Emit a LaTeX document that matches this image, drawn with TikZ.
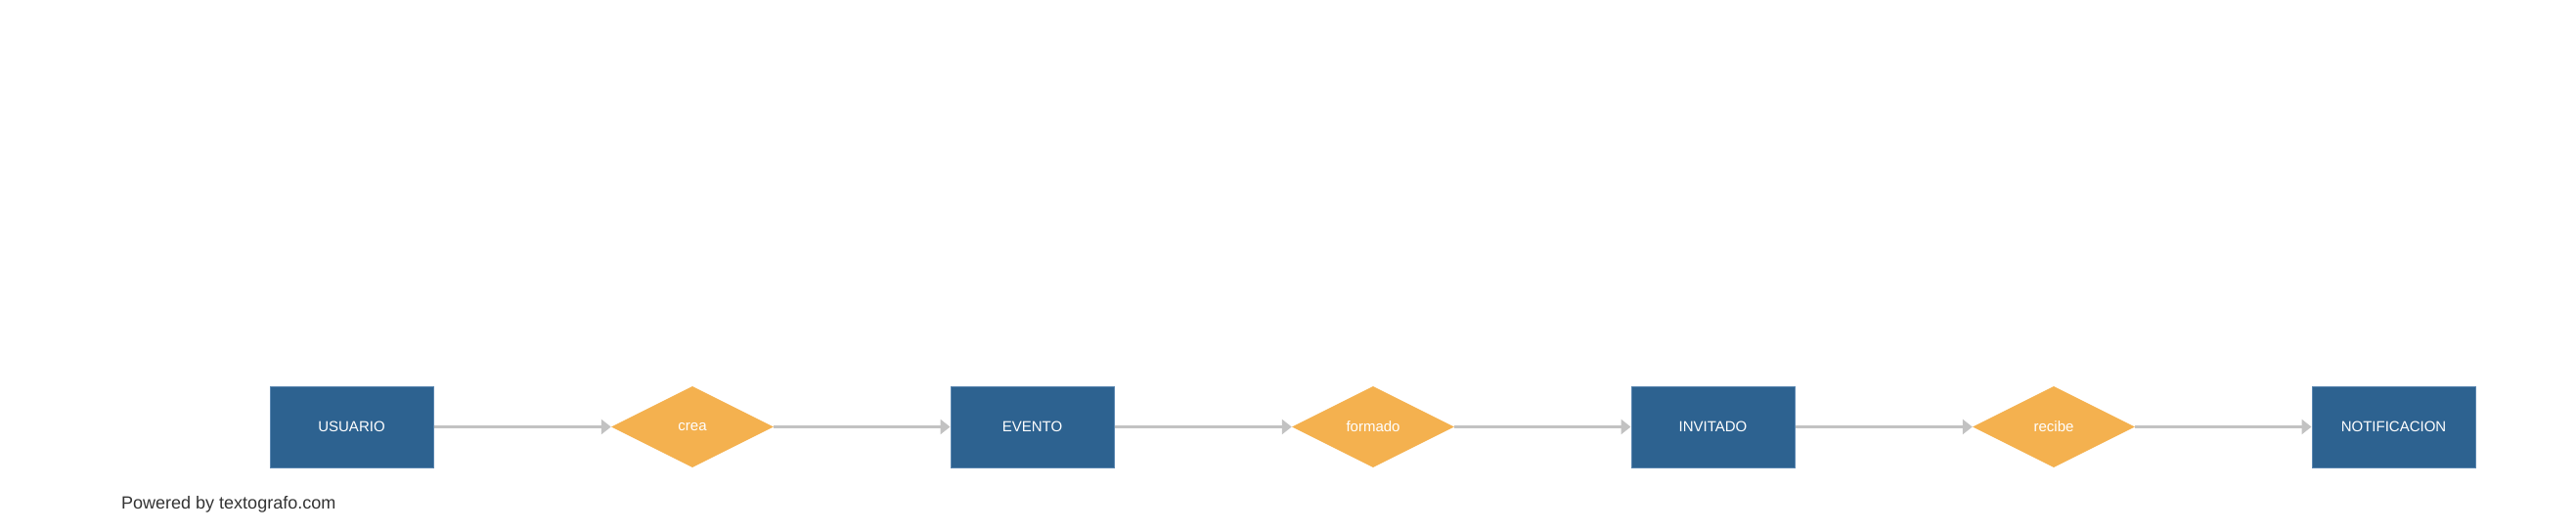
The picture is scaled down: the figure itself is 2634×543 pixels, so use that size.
\documentclass[tikz,border=0pt]{standalone}
\usepackage{fontspec}
\setmainfont{Liberation Sans}
\usetikzlibrary{shapes.geometric,arrows.meta}
\definecolor{boxblue}{HTML}{2D6290}
\definecolor{boxedge}{HTML}{5A86B0}
\definecolor{diaorange}{HTML}{F4B14F}
\definecolor{linegray}{HTML}{C2C2C2}
\definecolor{credit}{HTML}{333333}
\tikzset{
  entity/.style={rectangle, fill=boxblue, draw=boxedge, line width=1pt, minimum width=167pt, minimum height=83pt, inner sep=0pt, text=white, font=\fontsize{15pt}{17pt}\selectfont},
  relation/.style={diamond, aspect=2, fill=diaorange, draw=none, minimum width=166pt, minimum height=83pt, inner sep=0pt, text=white, font=\fontsize{15pt}{17pt}\selectfont},
  link/.style={draw=linegray, line width=3pt, -{Triangle[length=10pt,width=15pt]}, shorten >=0pt}
}
\begin{document}
\begin{tikzpicture}[x=1pt,y=-1pt]
\useasboundingbox (0,0) rectangle (2634,543);
\node[entity] (usuario) at (359.5,436.5) {USUARIO};
\node[relation] (crea) at (708,436.5) {crea};
\node[entity] (evento) at (1055.5,436.5) {EVENTO};
\node[relation] (formado) at (1404,436.5) {formado};
\node[entity] (invitado) at (1751.5,436.5) {INVITADO};
\node[relation] (recibe) at (2100,436.5) {recibe};
\node[entity] (notif) at (2447.5,436.5) {NOTIFICACION};
\draw[link] (usuario.east) -- (crea.west);
\draw[link] (crea.east) -- (evento.west);
\draw[link] (evento.east) -- (formado.west);
\draw[link] (formado.east) -- (invitado.west);
\draw[link] (invitado.east) -- (recibe.west);
\draw[link] (recibe.east) -- (notif.west);
\node[anchor=base west, inner sep=0pt, text=credit, font=\fontsize{18pt}{20pt}\selectfont] (credit) at (124,520) {Powered by textografo.com};
\end{tikzpicture}
\end{document}
